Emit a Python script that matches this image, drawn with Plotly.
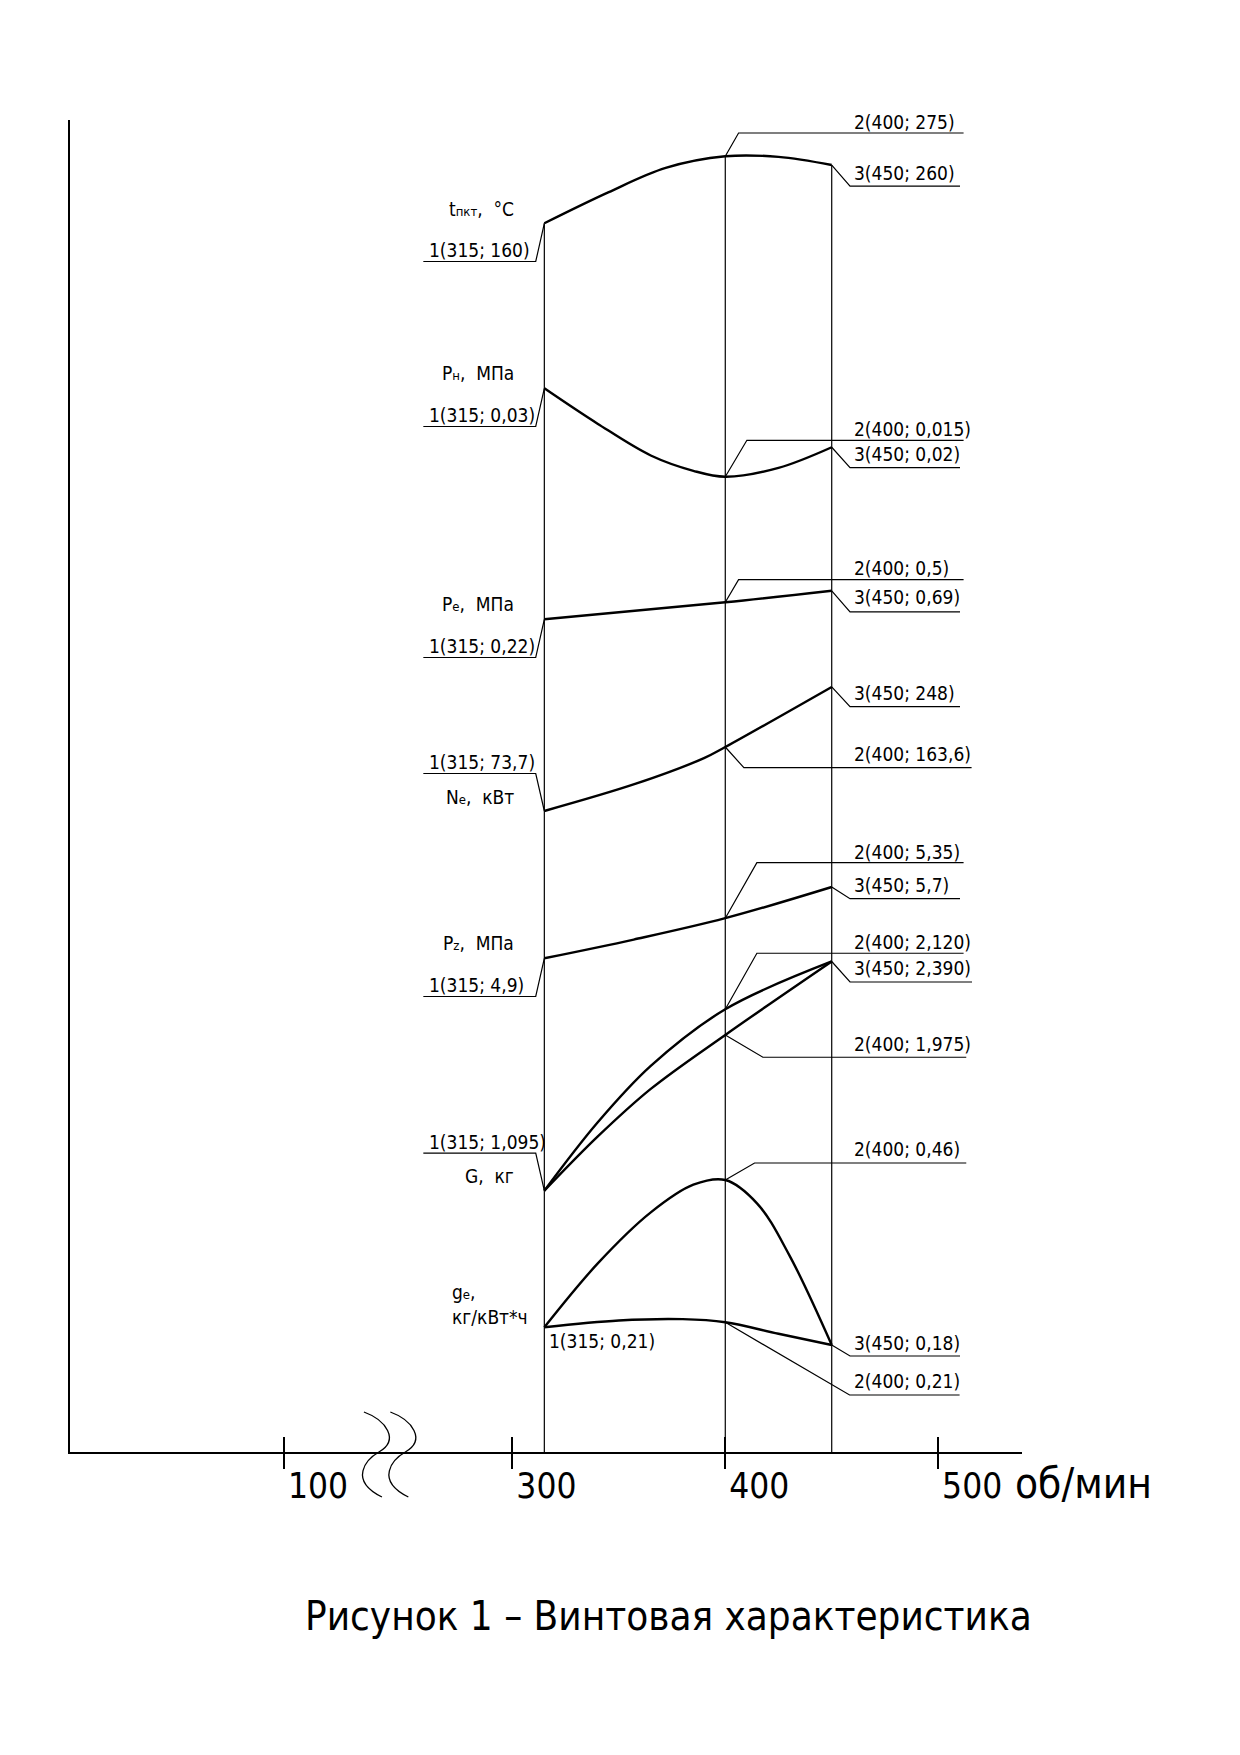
import plotly.graph_objects as go

W, H = 1240, 1755

# ---------------- data ----------------
marks = [315, 400, 450]

t_rpm = [315, 345, 372, 400, 425, 450]
t_val = [160, 213, 255, 275, 274, 260]

pn_rpm = [315, 340, 365, 385, 400, 425, 450]
pn_val = [0.0300, 0.0240, 0.0186, 0.0160, 0.0150, 0.0165, 0.0200]

pe_rpm = [315, 400, 450]
pe_val = [0.22, 0.50, 0.69]

ne_rpm = [315, 358, 390, 400, 450]
ne_val = [73.7, 112.0, 148.0, 163.6, 248.0]

pz_rpm = [315, 357, 400, 450]
pz_val = [4.90, 5.11, 5.35, 5.70]

g1_rpm = [315, 340, 365, 400, 450]
g1_val = [1.095, 1.48, 1.80, 2.120, 2.390]
g2_rpm = [315, 340, 365, 400, 450]
g2_val = [1.095, 1.40, 1.67, 1.975, 2.390]

ge1_rpm = [315, 340, 365, 385, 400, 415, 430, 450]
ge1_val = [0.21, 0.318, 0.405, 0.452, 0.46, 0.42, 0.333, 0.18]
ge2_rpm = [315, 350, 380, 400, 425, 450]
ge2_val = [0.21, 0.2215, 0.2238, 0.2185, 0.199, 0.18]

x_tick_vals = [192.7, 300, 400, 500]
x_tick_text = ["100", "300", "400", "500"]

t_labels = ["1(315; 160)", "2(400; 275)", "3(450; 260)"]
pn_labels = ["1(315; 0,03)", "2(400; 0,015)", "3(450; 0,02)"]
pe_labels = ["1(315; 0,22)", "2(400; 0,5)", "3(450; 0,69)"]
ne_labels = ["1(315; 73,7)", "2(400; 163,6)", "3(450; 248)"]
pz_labels = ["1(315; 4,9)", "2(400; 5,35)", "3(450; 5,7)"]
g_labels = ["1(315; 1,095)", "2(400; 2,120)", "2(400; 1,975)", "3(450; 2,390)"]
ge_labels = ["1(315; 0,21)", "2(400; 0,46)", "3(450; 0,18)", "2(400; 0,21)"]

SUB = "<span style='font-size:13px'>%s</span>"
names = {
    "t": "t" + SUB % "пкт" + ",  °C",
    "pn": "P" + SUB % "н" + ",  МПа",
    "pe": "P" + SUB % "e" + ",  МПа",
    "ne": "N" + SUB % "e" + ",  кВт",
    "pz": "P" + SUB % "z" + ",  МПа",
    "g": "G,  кг",
    "ge": "g" + SUB % "e" + ",<br>кг/кВт*ч",
}
x_unit = "об/мин"
title = "Рисунок 1 – Винтовая характеристика"

# ---------------- layout geometry (pixels) ----------------
Y_TOP, Y_BOT = 119.5, 1452.0
X_L, X_R = 70.0, 1022.0
PX_PER_RPM = 2.1288
X_300 = 512.4

FONT = "DejaVu Sans Condensed, Liberation Sans Narrow, DejaVu Sans, sans-serif"
LBL = 19
DESC = 0.236


def x_range():
    return [300 - (X_300 - X_L) / PX_PER_RPM, 300 + (X_R - X_300) / PX_PER_RPM]


def y_range(v0, p0, s):
    return [v0 - (Y_BOT - p0) / s, v0 + (p0 - Y_TOP) / s]


# each parameter has its own (hidden) vertical scale: value, pixel row, px per unit
scales = {
    "y": (160, 223.3, 0.5826),
    "y2": (0.03, 388.3, 5893.0),
    "y3": (0.22, 619.3, 60.7),
    "y4": (73.7, 811.0, 0.7119),
    "y5": (4.9, 958.3, 89.1),
    "y6": (1.095, 1190.7, 177.0),
    "y7": (0.21, 1327.3, 589.2),
}

fig = go.Figure()

CURVE = dict(color="black", width=2.4)
THIN = dict(color="black", width=1.2)


def curve(xs, ys, yref):
    fig.add_trace(go.Scatter(x=xs, y=ys, mode="lines", yaxis=yref, xaxis="x",
                             line=dict(shape="spline", smoothing=1.0, **CURVE),
                             hoverinfo="skip"))


curve(t_rpm, t_val, "y")
curve(pn_rpm, pn_val, "y2")
curve(pe_rpm, pe_val, "y3")
curve(ne_rpm, ne_val, "y4")
curve(pz_rpm, pz_val, "y5")
curve(g1_rpm, g1_val, "y6")
curve(g2_rpm, g2_val, "y6")
curve(ge1_rpm, ge1_val, "y7")
curve(ge2_rpm, ge2_val, "y7")

# vertical ordinates at the three operating points, from the t curve down to the axis
t_bottom = y_range(*scales["y"])[0]
for m in marks:
    tv = t_val[t_rpm.index(m)]
    fig.add_trace(go.Scatter(x=[m, m], y=[tv, t_bottom], mode="lines", yaxis="y",
                             xaxis="x", line=THIN, hoverinfo="skip"))

# dummy trace to register the overlay x axis (upper half of ticks)
fig.add_trace(go.Scatter(x=[300], y=[t_bottom], xaxis="x2", yaxis="y", mode="markers",
                         marker=dict(opacity=0), hoverinfo="skip"))

shapes = []
annotations = []


def leader(x, y, yref, pts):
    path = "M0,0 " + " ".join("L%.1f,%.1f" % p for p in pts)
    shapes.append(dict(type="path", xref="x", yref=yref, xsizemode="pixel",
                       ysizemode="pixel", xanchor=x, yanchor=y, path=path, line=THIN))


def label(text, x, y, yref, dx, dy, align="left", size=LBL):
    annotations.append(dict(text=text, x=x, y=y, xref="x", yref=yref, showarrow=False,
                            xanchor=align, yanchor="bottom", xshift=dx,
                            yshift=dy - DESC * size, borderpad=0, align="left",
                            font=dict(family=FONT, size=size, color="black")))


def left_callout(x, y, yref, text, up=False):
    if up:
        leader(x, y, yref, [(-8.6, 37.5), (-121, 37.5)])
        label(text, x, y, yref, -116.5, 41.5)
    else:
        leader(x, y, yref, [(-8.6, -38.2), (-121, -38.2)])
        label(text, x, y, yref, -116.5, -34.5)


def right_callout(x, y, yref, text, corner, end, base):
    leader(x, y, yref, [corner, (end, corner[1])])
    label(text, x, y, yref, 853.3 - (512.4 + (x - 300) * PX_PER_RPM), base)


# --- t ---
left_callout(315, t_val[0], "y", t_labels[0])
right_callout(400, 275, "y", t_labels[1], (13.3, 23.3), 238.3, 26.3)
right_callout(450, 260, "y", t_labels[2], (18.3, -21.0), 128.3, -15.3)
label(names["t"], 315, t_val[0], "y", -29.3, 6.6, align="right")

# --- Pн ---
left_callout(315, pn_val[0], "y2", pn_labels[0])
right_callout(400, 0.015, "y2", pn_labels[1], (21.6, 36.4), 238.3, 39.7)
right_callout(450, 0.020, "y2", pn_labels[2], (18.3, -20.3), 128.3, -14.0)
label(names["pn"], 315, pn_val[0], "y2", -29.3, 7.3, align="right")

# --- Pe ---
left_callout(315, pe_val[0], "y3", pe_labels[0])
right_callout(400, pe_val[1], "y3", pe_labels[1], (13.3, 22.6), 238.3, 26.3)
right_callout(450, pe_val[2], "y3", pe_labels[2], (18.3, -21.2), 128.3, -14.2)
label(names["pe"], 315, pe_val[0], "y3", -29.3, 7.6, align="right")

# --- Ne ---
left_callout(315, ne_val[0], "y4", ne_labels[0], up=True)
right_callout(400, 163.6, "y4", ne_labels[1], (18.6, -20.7), 246.3, -14.7)
right_callout(450, 248.0, "y4", ne_labels[2], (18.3, -19.8), 128.3, -13.8)
label(names["ne"], 315, ne_val[0], "y4", -29.3, 6.0, align="right")

# --- Pz ---
left_callout(315, pz_val[0], "y5", pz_labels[0])
right_callout(400, 5.35, "y5", pz_labels[1], (31.6, 55.5), 238.3, 58.9)
right_callout(450, 5.70, "y5", pz_labels[2], (18.3, -11.7), 128.3, -5.3)
label(names["pz"], 315, pz_val[0], "y5", -29.3, 7.6, align="right")

# --- G ---
left_callout(315, g1_val[0], "y6", g_labels[0], up=True)
right_callout(400, 2.120, "y6", g_labels[1], (31.6, 56.0), 238.3, 59.3)
right_callout(400, 1.975, "y6", g_labels[2], (37.6, -22.3), 241.0, -16.7)
right_callout(450, 2.390, "y6", g_labels[3], (18.3, -20.5), 140.3, -14.5)
label(names["g"], 315, g1_val[0], "y6", -29.3, 7.4, align="right")

# --- ge ---
label(ge_labels[0], 315, ge1_val[0], "y7", 4.0, -21.0)
right_callout(400, 0.46, "y7", ge_labels[1], (29.3, 17.0), 241.0, 23.3)
right_callout(450, 0.18, "y7", ge_labels[2], (18.3, -11.0), 128.3, -5.3)
right_callout(400, ge2_val[ge2_rpm.index(400)], "y7", ge_labels[3], (124.3, -72.7), 234.3, -66.0)
label(names["ge"], 315, ge1_val[0], "y7", -93.6, 2.3, align="left")

# break marks on the rpm axis
shapes.append(dict(type="path", xref="x", yref="y domain", xsizemode="pixel",
                   ysizemode="pixel", xanchor=235.9, yanchor=0,
                   path="M-12,40 C10,32 24,12 3,0 C-9.6,-7.2 -28,-28 6,-45 "
                        "M14.4,40 C36.4,32 50.4,12 29.4,0 C16.8,-7.2 -1.6,-28 32.4,-45",
                   line=dict(color="black", width=1.3)))

# unit and caption
annotations.append(dict(text=x_unit, xref="paper", yref="paper", x=1014 / W,
                        y=(H - 1499) / H, xanchor="left", yanchor="bottom",
                        yshift=-DESC * 42, showarrow=False, borderpad=0,
                        font=dict(family=FONT, size=42, color="black")))
annotations.append(dict(text=title, xref="paper", yref="paper", x=668 / W,
                        y=(H - 1631) / H, xanchor="center", yanchor="bottom",
                        yshift=-DESC * 40, showarrow=False, borderpad=0,
                        font=dict(family=FONT, size=40, color="black")))

layout = dict(
    width=W, height=H, margin=dict(l=0, r=0, t=0, b=0),
    paper_bgcolor="white", plot_bgcolor="white", showlegend=False,
    xaxis=dict(domain=[X_L / W, X_R / W], range=x_range(), showline=True,
               linecolor="black", linewidth=1.5, ticks="outside", ticklen=15,
               tickwidth=1.5, tickcolor="black", tickvals=x_tick_vals,
               ticktext=x_tick_text, ticklabelshift=34, ticklabelstandoff=-13,
               tickfont=dict(family=FONT, size=35, color="black"),
               showgrid=False, zeroline=False, fixedrange=True),
    xaxis2=dict(overlaying="x", anchor="y", range=x_range(), ticks="inside",
                ticklen=15, tickwidth=1.5, tickcolor="black", tickvals=x_tick_vals,
                showticklabels=False, showline=False, showgrid=False, zeroline=False),
    yaxis=dict(domain=[(H - Y_BOT) / H, (H - Y_TOP) / H], range=y_range(*scales["y"]),
               showline=True, linecolor="black", linewidth=1.5, ticks="",
               showticklabels=False, showgrid=False, zeroline=False, fixedrange=True),
    shapes=shapes, annotations=annotations,
)
for k in ["y2", "y3", "y4", "y5", "y6", "y7"]:
    layout["yaxis" + k[1:]] = dict(overlaying="y", range=y_range(*scales[k]),
                                   visible=False, fixedrange=True)

fig.update_layout(**layout)
fig.write_html("out.html", config={"displayModeBar": False},
               post_script="document.body.style.margin='0';document.body.style.overflow='hidden';")
